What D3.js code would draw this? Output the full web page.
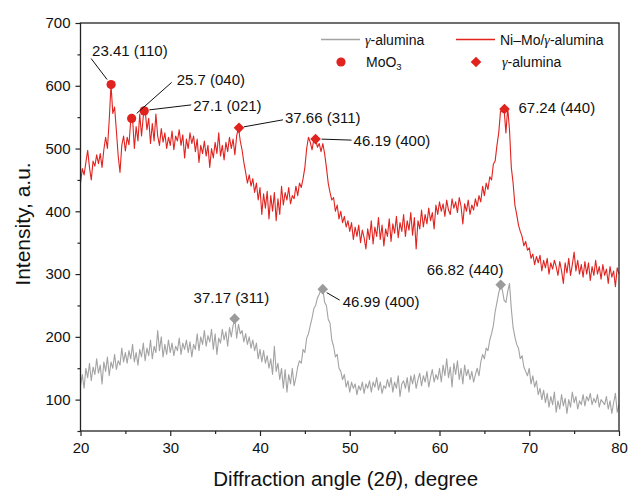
<!DOCTYPE html>
<html>
<head>
<meta charset="utf-8">
<script src="https://cdn.jsdelivr.net/npm/d3@7"></script>
<style>
  html, body { margin: 0; padding: 0; background: #fff; }
  svg { display: block; font-family: "Liberation Sans", Arial, sans-serif; }
</style>
</head>
<body>
<svg id="chart" width="628" height="490"></svg>
<script>
// XRD scan: 2θ from 20° to 80° with a 0.2° step
const scanStart = 20;
const scanStep = 0.2;

// Ni–Mo/γ-alumina intensity (a.u.)
const niMoIntensity = [
  445, 468, 458, 478, 497, 470, 450, 480, 472, 490,
  476, 492, 470, 498, 518, 500, 545, 602, 556, 566,
  528, 488, 462, 505, 520, 496, 518, 506, 546, 548,
  500, 535, 512, 555, 520, 552, 562, 530, 548, 508,
  540, 512, 555, 520, 505, 532, 510, 525, 500, 518,
  505, 528, 498, 520, 512, 530, 505, 522, 485, 515,
  500, 525, 508, 520, 495, 515, 478, 505, 492, 512,
  488, 505, 470, 500, 485, 510, 492, 525, 488, 505,
  482, 510, 495, 518, 500, 515, 490, 520, 534, 512,
  498, 478, 462, 445, 458, 440, 452, 430, 445, 418,
  438, 395, 428, 405, 432, 388, 425, 400, 430, 385,
  420, 395, 440, 410, 430, 418, 438, 412, 425, 420,
  440, 425, 445, 438, 452, 470, 500, 518, 510, 498,
  515, 515, 502, 508, 495, 508, 492, 470, 445, 430,
  418, 422, 400, 410, 388, 400, 382, 392, 375, 385,
  368, 382, 355, 375, 360, 378, 350, 370, 358, 340,
  372, 355, 385, 348, 375, 360, 390, 355, 378, 345,
  372, 360, 388, 352, 380, 365, 392, 358, 382, 368,
  395, 360, 385, 370, 398, 362, 390, 340, 385, 372,
  402, 375, 395, 380, 405, 385, 398, 372, 410, 395,
  415, 400, 412, 392, 418, 402, 395, 420, 405, 415,
  398, 422, 408, 380, 412, 400, 418, 395, 410, 402,
  420, 408, 425, 415, 440, 425, 445, 435, 455, 450,
  475, 480, 505, 525, 560, 558, 562, 525, 565, 530,
  470, 445, 410, 395, 378, 368, 360, 345, 352, 338,
  342, 325, 332, 315, 328, 318, 330, 305, 322, 310,
  325, 300, 318, 308, 322, 312, 298, 320, 305, 285,
  318, 302, 325, 298, 315, 335, 305, 322, 300, 315,
  295, 320, 300, 318, 290, 312, 298, 322, 300, 312,
  292, 315, 298, 308, 285, 312, 295, 305, 280, 310,
  300
];

// γ-alumina support intensity (a.u.)
const aluminaIntensity = [
  122, 140, 118, 150, 135, 158, 130, 152, 140, 165,
  142, 155, 125, 160, 145, 168, 138, 160, 150, 172,
  148, 162, 155, 182, 160, 175, 158, 178, 165, 188,
  160, 175, 155, 180, 168, 190, 162, 182, 170, 195,
  165, 185, 175, 210, 178, 200, 168, 188, 172, 195,
  175, 190, 170, 185, 178, 198, 172, 190, 180, 195,
  175, 192, 168, 188, 180, 205, 178, 200, 188, 210,
  185, 202, 192, 212, 180, 205, 172, 198, 190, 212,
  195, 208, 185, 215, 200, 218, 228, 198, 220, 205,
  210, 192, 205, 188, 200, 182, 195, 178, 190, 165,
  180, 160, 178, 158, 170, 150, 165, 140, 185, 145,
  158, 132, 150, 118, 148, 112, 140, 125, 150, 122,
  135, 152, 162, 158, 180, 175, 198, 205, 218, 230,
  245, 250, 262, 268, 275, 276, 255, 250, 228, 222,
  195, 185, 168, 172, 150, 145, 132, 140, 120, 130,
  112, 128, 118, 125, 108, 122, 115, 128, 110, 125,
  118, 130, 112, 128, 120, 135, 115, 128, 110, 122,
  118, 132, 120, 135, 112, 128, 118, 138, 105, 125,
  130, 118, 135, 112, 138, 125, 140, 118, 132, 142,
  122, 138, 128, 145, 120, 135, 148, 128, 140, 132,
  150, 128, 155, 138, 165, 135, 152, 120, 158, 140,
  162, 132, 150, 125, 155, 138, 148, 132, 145, 128,
  140, 150, 138, 160, 172, 165, 182, 178, 195, 205,
  218, 240, 255, 270, 282, 275, 258, 255, 272, 285,
  245, 215, 200, 188, 182, 165, 170, 152, 145, 138,
  150, 125, 138, 120, 130, 108, 118, 100, 115, 95,
  110, 88, 105, 92, 112, 80, 98, 85, 108, 90,
  102, 78, 100, 88, 112, 95, 105, 85, 98, 92,
  108, 90, 105, 98, 110, 92, 102, 95, 108, 88,
  100, 96, 92, 105, 85, 98, 78, 95, 110, 80,
  92
];

// Axis ticks
const xTicks = [20, 30, 40, 50, 60, 70, 80];
const xMinorTicks = [25, 35, 45, 55, 65, 75];
const yTicks = [100, 200, 300, 400, 500, 600, 700];
const yMinorTicks = [50, 150, 250, 350, 450, 550, 650];

// Indexed reflections (2θ, intensity, label)
const moo3Angles = [23.41, 25.7, 27.1];
const moo3Values = [602, 548, 560];
const moo3Labels = ["23.41 (110)", "25.7 (040)", "27.1 (021)"];

const niMoAluminaAngles = [37.66, 46.19, 67.24];
const niMoAluminaValues = [533, 515, 563];
const niMoAluminaLabels = ["37.66 (311)", "46.19 (400)", "67.24 (440)"];

const aluminaAngles = [37.17, 46.99, 66.82];
const aluminaValues = [229, 276, 283];
const aluminaLabels = ["37.17 (311)", "46.99 (400)", "66.82 (440)"];

// ---- layout ----
const svg = d3.select("#chart");
const plot = { left: 80.5, right: 619, top: 23, bottom: 431 };
const RED = "#e0231f";
const GREY = "#a3a3a3";
const GREY_MARK = "#9b9b9b";

const x = d3.scaleLinear().domain([20, 80]).range([plot.left, plot.right]);
const y = d3.scaleLinear().domain([50, 700]).range([plot.bottom, plot.top]);

const toPoints = arr => arr.map((v, i) => [scanStart + i * scanStep, v]);
const line = d3.line().x(d => x(d[0])).y(d => y(d[1]));

const g = svg.append("g");

// traces
g.append("path").datum(toPoints(aluminaIntensity))
  .attr("d", line).attr("fill", "none")
  .attr("stroke", GREY).attr("stroke-width", 1.1).attr("stroke-linejoin", "round");
g.append("path").datum(toPoints(niMoIntensity))
  .attr("d", line).attr("fill", "none")
  .attr("stroke", RED).attr("stroke-width", 1.1).attr("stroke-linejoin", "round");

// axes
const xAxis = d3.axisBottom(x).tickValues(xTicks).tickSize(5).tickPadding(6).tickFormat(d3.format("d"));
const xMinor = d3.axisBottom(x).tickValues(xMinorTicks).tickSize(3).tickFormat("");
const yAxis = d3.axisLeft(y).tickValues(yTicks).tickSize(5).tickPadding(5).tickFormat(d3.format("d"));
const yMinor = d3.axisLeft(y).tickValues(yMinorTicks).tickSize(3).tickFormat("");

function styleAxis(sel) {
  sel.select(".domain").remove();
  sel.selectAll(".tick line").attr("stroke", "#222").attr("stroke-width", 1.2);
  sel.selectAll(".tick text").attr("fill", "#111").attr("font-size", 15)
    .attr("font-family", "'Liberation Sans', Arial, sans-serif");
}
svg.append("g").attr("transform", `translate(0,${plot.bottom})`).call(xAxis).call(styleAxis);
svg.append("g").attr("transform", `translate(0,${plot.bottom})`).call(xMinor).call(styleAxis);
svg.append("g").attr("transform", `translate(${plot.left},0)`).call(yAxis).call(styleAxis);
svg.append("g").attr("transform", `translate(${plot.left},0)`).call(yMinor).call(styleAxis);

// frame
svg.append("rect")
  .attr("x", plot.left).attr("y", plot.top)
  .attr("width", plot.right - plot.left).attr("height", plot.bottom - plot.top)
  .attr("fill", "none").attr("stroke", "#222").attr("stroke-width", 1.3);

// axis titles
const xTitle = svg.append("text")
  .attr("x", (plot.left + plot.right) / 2 - 4).attr("y", 486)
  .attr("text-anchor", "middle").attr("font-size", 20.5).attr("fill", "#111");
xTitle.append("tspan").text("Diffraction angle (2");
xTitle.append("tspan").attr("font-style", "italic").text("θ");
xTitle.append("tspan").text("), degree");

svg.append("text")
  .attr("transform", `translate(30,${(plot.top + plot.bottom) / 2 - 3}) rotate(-90)`)
  .attr("text-anchor", "middle").attr("font-size", 21).attr("fill", "#111")
  .text("Intensity, a.u.");

// markers
const diamond = d3.symbol().type(d3.symbolDiamond2).size(72);

g.selectAll(".moo3").data(moo3Angles).join("circle")
  .attr("cx", d => x(d)).attr("cy", (d, i) => y(moo3Values[i]))
  .attr("r", 4.6).attr("fill", RED);

g.selectAll(".nmA").data(niMoAluminaAngles).join("path")
  .attr("d", diamond)
  .attr("transform", (d, i) => `translate(${x(d)},${y(niMoAluminaValues[i])})`)
  .attr("fill", RED);

g.selectAll(".alA").data(aluminaAngles).join("path")
  .attr("d", diamond)
  .attr("transform", (d, i) => `translate(${x(d)},${y(aluminaValues[i])})`)
  .attr("fill", GREY_MARK);

// peak annotations: text offset from the marker and optional leader line
const annotations = [
  { ax: moo3Angles[0], av: moo3Values[0], text: moo3Labels[0], tx: -19, ty: -34, lead: [-20, -26], leadEnd: [-4, -5] },
  { ax: moo3Angles[1], av: moo3Values[1], text: moo3Labels[1], tx: 45, ty: -39, lead: [40, -36], leadEnd: [5, -5] },
  { ax: moo3Angles[2], av: moo3Values[2], text: moo3Labels[2], tx: 49, ty: -5, lead: [47, -6], leadEnd: [5, -1] },
  { ax: niMoAluminaAngles[0], av: niMoAluminaValues[0], text: niMoAluminaLabels[0], tx: 46, ty: -10, lead: [44, -8], leadEnd: [5, -1] },
  { ax: niMoAluminaAngles[1], av: niMoAluminaValues[1], text: niMoAluminaLabels[1], tx: 38, ty: 1, lead: [36, 1], leadEnd: [6, 0] },
  { ax: niMoAluminaAngles[2], av: niMoAluminaValues[2], text: niMoAluminaLabels[2], tx: 14, ty: -1 },
  { ax: aluminaAngles[0], av: aluminaValues[0], text: aluminaLabels[0], tx: -41, ty: -21 },
  { ax: aluminaAngles[1], av: aluminaValues[1], text: aluminaLabels[1], tx: 20, ty: 12, lead: [17, 11], leadEnd: [4, 3.5] },
  { ax: aluminaAngles[2], av: aluminaValues[2], text: aluminaLabels[2], tx: -74, ty: -15 }
];

annotations.forEach(a => {
  const px = x(a.ax), py = y(a.av);
  if (a.lead) {
    svg.append("line")
      .attr("x1", px + a.leadEnd[0]).attr("y1", py + a.leadEnd[1])
      .attr("x2", px + a.lead[0]).attr("y2", py + a.lead[1])
      .attr("stroke", "#111").attr("stroke-width", 1);
  }
  svg.append("text")
    .attr("x", px + a.tx).attr("y", py + a.ty)
    .attr("dy", "0.36em")
    .attr("font-size", 15).attr("fill", "#111")
    .text(a.text);
});

// legend
const legend = svg.append("g").attr("font-size", 14).attr("fill", "#111");
function gammaLabel(sel, xPos, yPos, before, after) {
  const t = sel.append("text").attr("x", xPos).attr("y", yPos).attr("dy", "0.36em");
  if (before) t.append("tspan").text(before);
  t.append("tspan").attr("font-family", "'Liberation Serif', 'Times New Roman', serif")
    .attr("font-style", "italic").text("γ");
  t.append("tspan").text(after);
  return t;
}
legend.append("line").attr("x1", 321).attr("x2", 360).attr("y1", 39.5).attr("y2", 39.5)
  .attr("stroke", GREY).attr("stroke-width", 1.6);
gammaLabel(legend, 365, 39.5, "", "-alumina");
legend.append("line").attr("x1", 456).attr("x2", 495).attr("y1", 39.5).attr("y2", 39.5)
  .attr("stroke", RED).attr("stroke-width", 1.6);
gammaLabel(legend, 500, 39.5, "Ni–Mo/", "-alumina");

legend.append("circle").attr("cx", 341).attr("cy", 62).attr("r", 4.6).attr("fill", RED);
const moLabel = legend.append("text").attr("x", 366).attr("y", 62).attr("dy", "0.36em");
moLabel.append("tspan").text("MoO");
moLabel.append("tspan").attr("font-size", 9.5).attr("dy", "0.3em").text("3");
legend.append("path").attr("d", diamond)
  .attr("transform", "translate(476,62)").attr("fill", RED);
gammaLabel(legend, 502, 62, "", "-alumina");
</script>
</body>
</html>
